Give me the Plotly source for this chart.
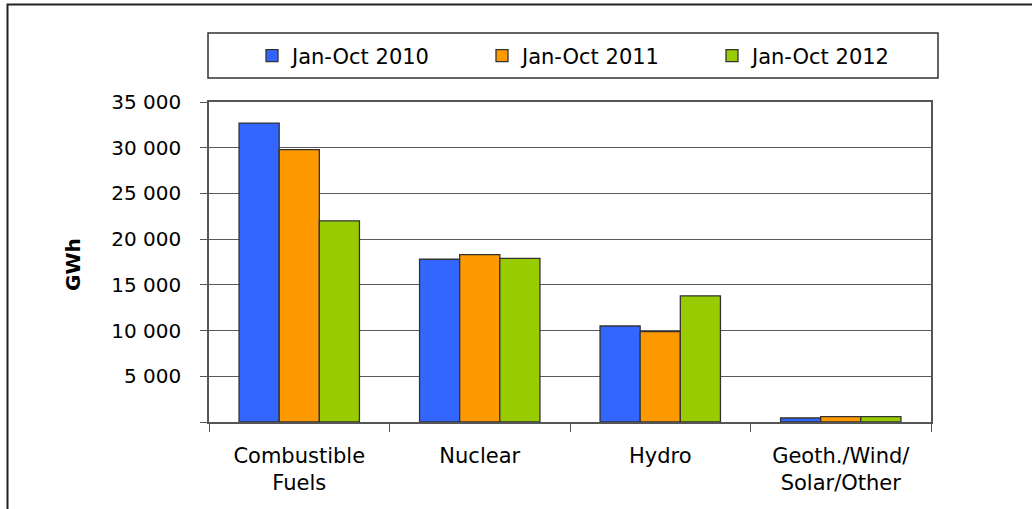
import plotly.graph_objects as go

categories = ["Combustible<br>Fuels", "Nuclear", "Hydro", "Geoth./Wind/<br>Solar/Other"]
series_names = ["Jan-Oct 2010", "Jan-Oct 2011", "Jan-Oct 2012"]
gwh_2010 = [32700, 17800, 10500, 440]
gwh_2011 = [29800, 18300, 9880, 590]
gwh_2012 = [22000, 17900, 13800, 590]
y_ticks = [0, 5000, 10000, 15000, 20000, 25000, 30000, 35000]
y_ticktext = ["", "5 000", "10 000", "15 000", "20 000", "25 000", "30 000", "35 000"]

colors = ["#3366FF", "#FF9900", "#99CC00"]
font = "DejaVu Sans"

fig = go.Figure()
for name, vals, col in zip(series_names, [gwh_2010, gwh_2011, gwh_2012], colors):
    fig.add_trace(go.Bar(
        x=categories, y=vals, name=name,
        marker=dict(color=col, line=dict(color="#333333", width=1.3)),
    ))

W, H = 1032, 509
# plot area in page pixels
L, R, T, B = 209, 931, 102, 422


def px_x(p):
    return (p - L) / (R - L)


def px_y(p):
    return (B - p) / (B - T)


fig.update_layout(
    width=W, height=H,
    margin=dict(l=L, r=W - R, t=T, b=H - B),
    paper_bgcolor="white", plot_bgcolor="white",
    font=dict(family=font, size=20, color="black"),
    barmode="group", bargap=0.333, bargroupgap=0,
    showlegend=True,
    legend=dict(
        orientation="h", x=px_x(252), xanchor="left", y=px_y(56), yanchor="middle",
        entrywidth=185, entrywidthmode="pixels",
        bgcolor="rgba(0,0,0,0)", font=dict(size=21),
    ),
    xaxis=dict(
        showline=True, linecolor="#555555", linewidth=1.5, mirror=True,
        ticks="outside", tickson="boundaries", ticklen=8, tickcolor="#555555",
        ticklabelstandoff=14, showgrid=False, tickfont=dict(size=21),
    ),
    yaxis=dict(
        range=[0, 35000], tickvals=y_ticks, ticktext=y_ticktext,
        showline=True, linecolor="#555555", linewidth=1.5, mirror=True,
        ticks="outside", ticklen=7, tickcolor="#555555",
        ticklabelstandoff=15,
        showgrid=True, gridcolor="#5a5a5a", gridwidth=1.3, zeroline=False,
    ),
    shapes=[
        # legend box
        dict(type="rect", xref="paper", yref="paper",
             x0=px_x(208), x1=px_x(938), y0=px_y(78), y1=px_y(33),
             line=dict(color="#333333", width=1.5)),
        # outer frame (cut at right and bottom)
        dict(type="path", xref="paper", yref="paper",
             path=f"M {px_x(7.5)},{px_y(520)} L {px_x(7.5)},{px_y(4.5)} L {px_x(1040)},{px_y(4.5)}",
             line=dict(color="#222222", width=2)),
    ],
    annotations=[
        dict(text="<b>GWh</b>", xref="paper", yref="paper", x=px_x(73), y=px_y(265),
             xanchor="center", yanchor="middle",
             textangle=-90, showarrow=False, font=dict(size=20, family=font)),
    ],
)

fig.write_html("out.html", config={"displayModeBar": False},
               post_script="document.body.style.margin='0';")
